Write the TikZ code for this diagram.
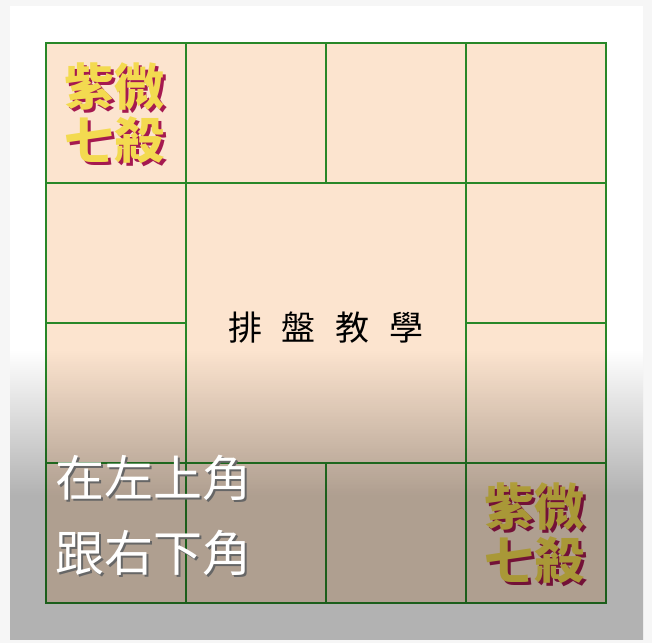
\documentclass[tikz,border=0pt]{standalone}
\usepackage{fontspec}
\newfontfamily\cjk{Noto Sans CJK TC}
\usetikzlibrary{
    positioning,
    fadings
}
\definecolor{palaceGreen}{RGB}{40,135,40}
\definecolor{peach}{RGB}{252,228,207}
\definecolor{starYellow}{RGB}{243,218,80}
\definecolor{starRed}{RGB}{165,25,80}
\definecolor{frameGrey}{RGB}{246,246,246}
\tikzfading[name=fadeDown, top color=transparent!100, bottom color=transparent!0]
\tikzset{
    % Chart cells
    palace/.style={
        draw=palaceGreen,
        fill=peach,
        line width=2pt,
        minimum size=140pt,
        inner sep=0pt,
        outer sep=0pt
    },
    bigPalace/.style={
        palace,
        minimum size=280pt
    },
    % Star names
    star/.style={
        font=\cjk\bfseries\fontsize{50}{54}\selectfont,
        align=center,
        inner sep=0pt,
        text=starYellow
    },
    starShadow/.style={
        star,
        text=starRed
    },
    chartTitle/.style={
        font=\cjk\fontsize{34}{40}\selectfont,
        inner sep=0pt
    },
    % Subtitles
    caption/.style={
        font=\cjk\fontsize{49}{54}\selectfont,
        text=white,
        anchor=west,
        inner sep=0pt
    },
    captionShadow/.style={
        caption,
        text=black!60
    }
}

\begin{document}
\begin{tikzpicture}[x=1pt,y=-1pt]

    \useasboundingbox (0,0) rectangle (652,643);
    \fill[frameGrey] (0,0) rectangle (652,643);
    \fill[white] (10,6) rectangle (643,640);

    \node[palace] (si) at (116,113) {};
    \node[palace, right=0pt of si] (wu) {};
    \node[palace, right=0pt of wu] (wei) {};
    \node[palace, right=0pt of wei] (shen) {};
    \node[palace, below=0pt of si] (chen) {};
    \node[palace, below=0pt of chen] (mao) {};
    \node[palace, below=0pt of mao] (yin) {};
    \node[palace, right=0pt of yin] (chou) {};
    \node[palace, right=0pt of chou] (zi) {};
    \node[palace, right=0pt of zi] (hai) {};
    \node[palace, above=0pt of hai] (xu) {};
    \node[palace, above=0pt of xu] (you) {};
    \node[bigPalace, below right=0pt of si] (centre) {};

    \node[starShadow] (siShadow) at ([xshift=1pt,yshift=-3pt]si.center) {紫微\\七殺};
    \node[star] (siStar) at ([xshift=-2pt]si.center) {紫微\\七殺};
    \node[starShadow] (haiShadow) at ([xshift=1pt,yshift=-3pt]hai.center) {紫微\\七殺};
    \node[star] (haiStar) at ([xshift=-2pt]hai.center) {紫微\\七殺};

    \node[chartTitle] (title) at ([yshift=-5pt]centre.center) {排\hspace{20pt}盤\hspace{20pt}教\hspace{20pt}學};

    % video shading at the bottom
    \begin{scope}
        \clip (10,6) rectangle (643,640);
        \fill[black, opacity=0.3, path fading=fadeDown] (0,350) rectangle (652,495);
        \fill[black, opacity=0.3] (0,495) rectangle (652,640);
    \end{scope}

    \node[captionShadow] (lineOneShadow) at (57,480) {在左上角};
    \node[caption] (lineOne) at (55,478) {在左上角};
    \node[captionShadow] (lineTwoShadow) at (57,555) {跟右下角};
    \node[caption] (lineTwo) at (55,553) {跟右下角};

\end{tikzpicture}
\end{document}
